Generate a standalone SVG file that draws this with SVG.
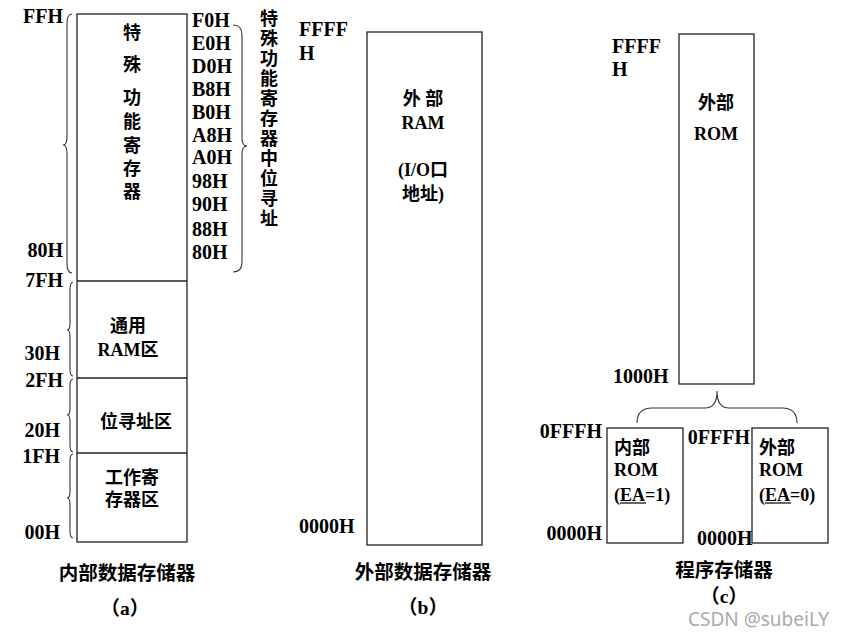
<svg xmlns="http://www.w3.org/2000/svg" width="846" height="635" viewBox="0 0 846 635">
<style>
text{font-family:"Liberation Serif","Noto Sans CJK SC",serif;font-weight:bold;fill:#000;}
.n{font-size:20px;}
.c{font-size:18px;}
.cap{font-size:19.5px;text-anchor:middle;}
.m{text-anchor:middle;}
.e{text-anchor:end;}
.box{fill:#fff;stroke:#222;stroke-width:1.3;}
.br{fill:none;stroke:#333;stroke-width:1.1;}
.wm{font-family:"Noto Sans","Liberation Sans",sans-serif;font-weight:normal;font-size:19px;fill:#aaa;}
</style>
<rect width="846" height="635" fill="#fff"/>

<!-- Panel (a) -->
<g id="internal-ram">
  <rect class="box" x="77" y="14" width="110" height="528"/>
  <line x1="77" y1="281" x2="187" y2="281" stroke="#222" stroke-width="1.3"/>
  <line x1="77" y1="378" x2="187" y2="378" stroke="#222" stroke-width="1.3"/>
  <line x1="77" y1="453" x2="187" y2="453" stroke="#222" stroke-width="1.3"/>
</g>
<g id="sfr-text">
  <text class="c m" x="132" y="39">特</text>
  <text class="c m" x="132" y="71">殊</text>
  <text class="c m" x="132" y="104">功</text>
  <text class="c m" x="132" y="128">能</text>
  <text class="c m" x="132" y="152">寄</text>
  <text class="c m" x="132" y="175">存</text>
  <text class="c m" x="132" y="198">器</text>
</g>
<g id="general-ram">
  <text class="c m" x="128" y="332">通用</text>
  <text class="c m" x="128" y="356">RAM区</text>
</g>
<g id="bit-area">
  <text class="c m" x="136" y="428">位寻址区</text>
</g>
<g id="work-regs">
  <text class="c m" x="132" y="484">工作寄</text>
  <text class="c m" x="132" y="506">存器区</text>
</g>
<g id="left-addr">
  <text class="n e" x="63" y="23">FFH</text>
  <text class="n e" x="63" y="257">80H</text>
  <text class="n e" x="63" y="287">7FH</text>
  <text class="n e" x="60" y="360">30H</text>
  <text class="n e" x="63" y="387">2FH</text>
  <text class="n e" x="60" y="437">20H</text>
  <text class="n e" x="60" y="463">1FH</text>
  <text class="n e" x="60" y="539">00H</text>
</g>
<g id="sfr-addr">
  <text class="n" x="192" y="27">F0H</text>
  <text class="n" x="192" y="50">E0H</text>
  <text class="n" x="192" y="73">D0H</text>
  <text class="n" x="192" y="96">B8H</text>
  <text class="n" x="192" y="119">B0H</text>
  <text class="n" x="192" y="142">A8H</text>
  <text class="n" x="192" y="164">A0H</text>
  <text class="n" x="192" y="188">98H</text>
  <text class="n" x="192" y="211">90H</text>
  <text class="n" x="192" y="236">88H</text>
  <text class="n" x="192" y="259">80H</text>
</g>
<g id="sfr-bit-label">
  <text class="c m" x="269" y="25">特</text>
  <text class="c m" x="269" y="45">殊</text>
  <text class="c m" x="269" y="65">功</text>
  <text class="c m" x="269" y="85">能</text>
  <text class="c m" x="269" y="105">寄</text>
  <text class="c m" x="269" y="125">存</text>
  <text class="c m" x="269" y="145">器</text>
  <text class="c m" x="269" y="165">中</text>
  <text class="c m" x="269" y="185">位</text>
  <text class="c m" x="269" y="205">寻</text>
  <text class="c m" x="269" y="225">址</text>
</g>
<g id="caption-a">
  <text class="cap" x="127" y="580">内部数据存储器</text>
  <text class="cap" x="125" y="615">（a）</text>
</g>

<!-- Panel (b) -->
<g id="external-ram">
  <rect class="box" x="367" y="32" width="115" height="513"/>
  <text class="c m" x="423" y="105">外 部</text>
  <text class="c m" x="423" y="129">RAM</text>
  <text class="c m" x="423" y="176">(I/O口</text>
  <text class="c m" x="423" y="200">地址)</text>
</g>
<g id="ext-ram-addr">
  <text class="n" x="299" y="36">FFFF</text>
  <text class="n" x="299" y="60">H</text>
  <text class="n" x="299" y="533">0000H</text>
</g>
<g id="caption-b">
  <text class="cap" x="423" y="579">外部数据存储器</text>
  <text class="cap" x="423" y="614">（b）</text>
</g>

<!-- Panel (c) -->
<g id="external-rom-high">
  <rect class="box" x="679" y="34" width="75" height="350"/>
  <text class="c m" x="716" y="109">外部</text>
  <text class="c m" x="716" y="140">ROM</text>
</g>
<g id="rom-addr">
  <text class="n" x="612" y="53">FFFF</text>
  <text class="n" x="612" y="76">H</text>
  <text class="n" x="613" y="383">1000H</text>
</g>
<g id="internal-rom">
  <rect class="box" x="607" y="428" width="76" height="115"/>
  <text class="c" x="614" y="454">内部</text>
  <text class="c" x="614" y="476">ROM</text>
  <text class="c" x="614" y="501">(EA=1)</text>
  <line x1="620" y1="503" x2="646" y2="503" stroke="#000" stroke-width="1.2"/>
</g>
<g id="external-rom-low">
  <rect class="box" x="752" y="428" width="76" height="115"/>
  <text class="c" x="759" y="454">外部</text>
  <text class="c" x="759" y="476">ROM</text>
  <text class="c" x="759" y="501">(EA=0)</text>
  <line x1="765" y1="503" x2="791" y2="503" stroke="#000" stroke-width="1.2"/>
</g>
<g id="low-rom-addr">
  <text class="n e" x="602" y="438">0FFFH</text>
  <text class="n e" x="602" y="540">0000H</text>
  <text class="n e" x="750" y="444">0FFFH</text>
  <text class="n" x="697" y="545">0000H</text>
</g>
<g id="caption-c">
  <text class="cap" x="724" y="577">程序存储器</text>
  <text class="cap" x="724" y="603">（c）</text>
</g>

<!-- Braces -->
<g id="connectors">
  <path class="br" d="M72,14 Q67,14 67,24 L67,137 Q67,145 63,145 Q67,145 67,153 L67,263 Q67,273 72,273"/>
  <path class="br" d="M73,282 Q70,282 70,290 L70,324 Q70,330 67,330 Q70,330 70,336 L70,369 Q70,376 73,376"/>
  <path class="br" d="M73,379 Q70,379 70,386 L70,409 Q70,415 67,415 Q70,415 70,421 L70,445 Q70,452 73,452"/>
  <path class="br" d="M73,454 Q70,454 70,461 L70,492 Q70,498 67,498 Q70,498 70,504 L70,531 Q70,538 73,538"/>
  <path class="br" d="M233,25 Q242,25 242,35 L242,138 Q242,146 247,146 Q242,146 242,154 L242,262 Q242,272 233,272"/>
  <path class="br" d="M637,423 Q637,408 652,408 L705,408 Q717,408 717,391 Q717,408 729,408 L782,408 Q797,408 797,423"/>
</g>

<text class="wm" x="688" y="626">CSDN @subeiLY</text>
</svg>
